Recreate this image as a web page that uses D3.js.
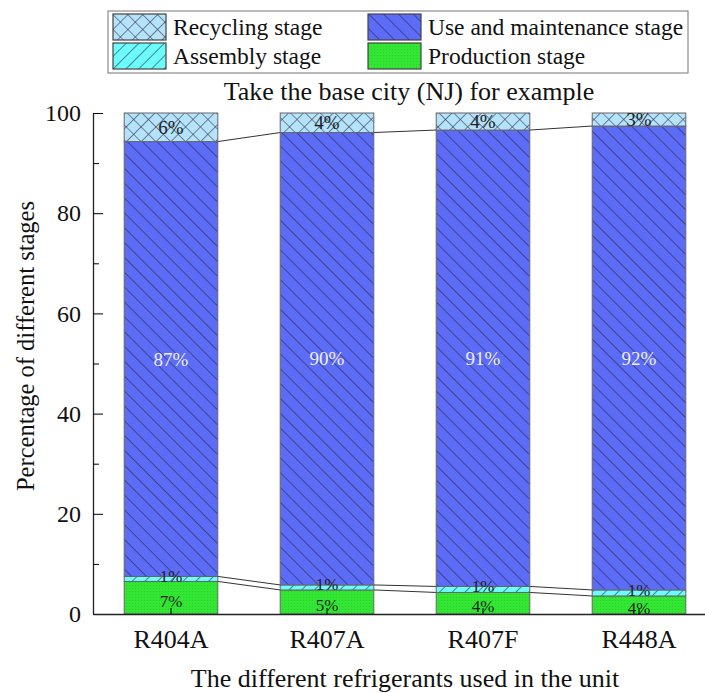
<!DOCTYPE html>
<html>
<head>
<meta charset="utf-8">
<script src="https://cdn.jsdelivr.net/npm/d3@7"></script>
<style>
  body { margin: 0; background: #fff; }
  svg text { font-family: "Liberation Serif", "Times New Roman", serif; }
</style>
</head>
<body>
<svg width="705" height="693"></svg>
<script>
// data (percent of each stage)
var categories = ["R404A", "R407A", "R407F", "R448A"];
var production = [6.5, 4.8, 4.3, 3.6];
var assembly = [1.0, 1.0, 1.2, 1.2];
var useStage = [86.8, 90.3, 91.1, 92.6];
var recycling = [5.7, 3.9, 3.4, 2.6];

var productionLabels = ["7%", "5%", "4%", "4%"];
var assemblyLabels = ["1%", "1%", "1%", "1%"];
var useLabels = ["87%", "90%", "91%", "92%"];
var recyclingLabels = ["6%", "4%", "4%", "3%"];

var yTicks = [0, 20, 40, 60, 80, 100];
var yMinorTicks = [10, 30, 50, 70, 90];

var svg = d3.select("svg");

var x = d3.scaleBand().domain(categories).range([93, 717]).paddingInner(0.4).paddingOuter(0.2),
    y = d3.scaleLinear().domain([0, 100]).range([614, 113]);

var rows = categories.map(function(c, i) {
    return {cat: c, production: production[i], assembly: assembly[i], use: useStage[i], recycling: recycling[i]};
});
var keys = ["production", "assembly", "use", "recycling"];
var labels = {production: productionLabels, assembly: assemblyLabels, use: useLabels, recycling: recyclingLabels};
var stacked = d3.stack().keys(keys)(rows);

// patterns
var defs = svg.append("defs");
function stripes(id, bg, angle, gap) {
    var p = defs.append("pattern")
        .attr("id", id)
        .attr("patternUnits", "userSpaceOnUse")
        .attr("width", gap).attr("height", gap)
        .attr("patternTransform", "rotate(" + angle + ")");
    p.append("rect").attr("width", gap).attr("height", gap).attr("fill", bg);
    p.append("line").attr("x1", 0).attr("y1", 0).attr("x2", 0).attr("y2", gap)
        .attr("stroke", "#24243c").attr("stroke-width", 1.1);
    return p;
}
stripes("p-use", "#5d6cf6", -45, 10.5);
stripes("p-asm", "#6cfcfc", 45, 9);
var cross = stripes("p-rec", "#b4e3fb", 45, 10.5);
cross.append("line").attr("x1", 0).attr("y1", 0).attr("x2", 10.5).attr("y2", 0)
    .attr("stroke", "#33334a").attr("stroke-width", 1.1);
var dots = defs.append("pattern").attr("id", "p-prod")
    .attr("patternUnits", "userSpaceOnUse").attr("width", 3).attr("height", 3);
dots.append("rect").attr("width", 3).attr("height", 3).attr("fill", "#33e633");
dots.append("rect").attr("width", 1).attr("height", 1).attr("fill", "#2bd22b");

var fills = {production: "url(#p-prod)", assembly: "url(#p-asm)", use: "url(#p-use)", recycling: "url(#p-rec)"};

// connecting lines between bars
var g = svg.append("g");
["production", "assembly", "use"].forEach(function(k) {
    var layer = stacked.find(function(s) { return s.key == k; });
    for (var i = 0; i < categories.length - 1; i++) {
        g.append("line")
            .attr("x1", x(categories[i]) + x.bandwidth())
            .attr("y1", y(layer[i][1]))
            .attr("x2", x(categories[i + 1]))
            .attr("y2", y(layer[i + 1][1]))
            .attr("stroke", "#333").attr("stroke-width", 1);
    }
});

// bars
stacked.forEach(function(layer) {
    g.selectAll(".bar-" + layer.key)
        .data(layer)
        .enter().append("rect")
        .attr("x", function(d, i) { return x(categories[i]); })
        .attr("y", function(d) { return y(d[1]); })
        .attr("width", x.bandwidth())
        .attr("height", function(d) { return y(d[0]) - y(d[1]); })
        .attr("fill", fills[layer.key])
        .attr("stroke", "#666")
        .attr("stroke-width", 1);
});

// bar labels (small nudge so the 1% and the production label do not sit on each other)
var nudge = {production: 3, assembly: -3, use: 0, recycling: 0};
stacked.forEach(function(layer) {
    g.selectAll(".lab-" + layer.key)
        .data(layer)
        .enter().append("text")
        .attr("x", function(d, i) { return x(categories[i]) + x.bandwidth() / 2; })
        .attr("y", function(d) { return (y(d[0]) + y(d[1])) / 2 + nudge[layer.key]; })
        .attr("dy", "0.35em")
        .attr("text-anchor", "middle")
        .attr("font-size", layer.key == "assembly" || layer.key == "production" ? "17px" : "19px")
        .attr("fill", layer.key == "use" ? "#eef" : "#222")
        .text(function(d, i) { return labels[layer.key][i]; });
});

// axes
var yAxis = svg.append("g")
    .attr("transform", "translate(93,0)")
    .call(d3.axisLeft(y).tickValues(yTicks).tickSizeInner(-10).tickSizeOuter(0).tickPadding(12));
yAxis.selectAll("text").attr("font-size", "24px").attr("fill", "#111").style("font-family", "Liberation Serif");
yAxis.select(".domain").attr("stroke", "#222").attr("stroke-width", 1.3);
svg.append("g")
    .attr("transform", "translate(93,0)")
    .call(d3.axisLeft(y).tickValues(yMinorTicks).tickSize(-6).tickFormat(""))
    .select(".domain").remove();

var xAxis = svg.append("g")
    .attr("transform", "translate(0,614)")
    .call(d3.axisBottom(x).tickSizeInner(-6).tickSizeOuter(0).tickPadding(16));
xAxis.selectAll("text").attr("font-size", "26px").attr("fill", "#111").style("font-family", "Liberation Serif");
xAxis.select(".domain").attr("stroke", "#222").attr("stroke-width", 1.3);

// axis titles
svg.append("text")
    .attr("x", 405).attr("y", 687)
    .attr("text-anchor", "middle")
    .attr("font-size", "26px").attr("fill", "#111")
    .text("The different refrigerants used in the unit");
svg.append("text")
    .attr("transform", "translate(34,346) rotate(-90)")
    .attr("text-anchor", "middle")
    .attr("font-size", "24.5px").attr("fill", "#111")
    .text("Percentage of different stages");

svg.append("text")
    .attr("x", 409).attr("y", 100)
    .attr("text-anchor", "middle")
    .attr("font-size", "26px").attr("fill", "#111")
    .text("Take the base city (NJ) for example");

// legend
var legendItems = [
    {name: "Recycling stage", key: "recycling", col: 0, row: 0},
    {name: "Use and maintenance stage", key: "use", col: 1, row: 0},
    {name: "Assembly stage", key: "assembly", col: 0, row: 1},
    {name: "Production stage", key: "production", col: 1, row: 1}
];
svg.append("rect")
    .attr("x", 108).attr("y", 11).attr("width", 580).attr("height", 62)
    .attr("fill", "none").attr("stroke", "#777").attr("stroke-width", 1);
var legend = svg.selectAll(".legendItem").data(legendItems).enter().append("g")
    .attr("transform", function(d) { return "translate(" + (113 + d.col * 255) + "," + (14 + d.row * 29) + ")"; });
legend.append("rect")
    .attr("width", 53).attr("height", 26)
    .attr("fill", function(d) { return fills[d.key]; })
    .attr("stroke", "#444").attr("stroke-width", 1.2);
legend.append("text")
    .attr("x", 60).attr("y", 13).attr("dy", "0.35em")
    .attr("font-size", "23.5px").attr("fill", "#111")
    .text(function(d) { return d.name; });
</script>
</body>
</html>
